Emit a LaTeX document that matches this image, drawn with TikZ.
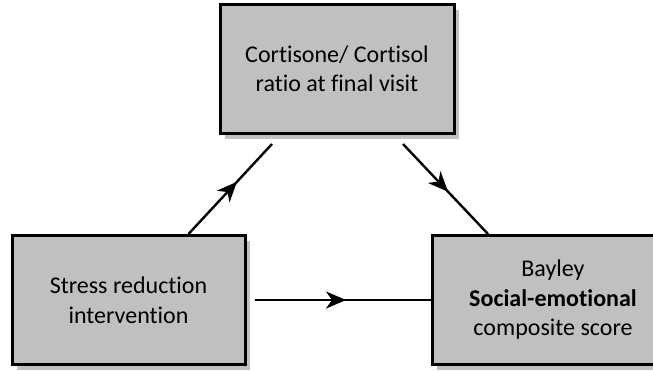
\documentclass[tikz,border=0pt]{standalone}
\usepackage{fontspec}
\setmainfont[Ligatures=NoCommon]{Carlito}
\usepackage{tikz}
\usetikzlibrary{positioning, arrows.meta, shadows, decorations.markings}
\definecolor{boxgray}{HTML}{C0C0C0}

\begin{document}
\begin{tikzpicture}[
    x=1pt, y=-1pt,
    node distance=184pt,
    every node/.style={font=\fontsize{24}{29.5}\selectfont},
    factor/.style={
      draw=black,
      fill=boxgray,
      line width=3pt,
      minimum height=129pt,
      align=center,
      drop shadow={shadow xshift=5pt, shadow yshift=-5pt, fill=boxgray, opacity=1}
    },
    link/.style={
      line width=2.4pt,
      postaction={decorate},
      decoration={markings,
        mark=at position #1 with {\arrow{Stealth[length=20pt,width=17pt,inset=6pt]}}}
    },
    link/.default=0.53
  ]
    \useasboundingbox (0,0) rectangle (653,370);

    \node[factor, minimum width=233pt] (stress) at (128.5,300)
      {Stress reduction\\intervention};
    \node[factor, minimum width=242pt, right=184pt of stress] (bayley)
      {Bayley\\\textbf{Social-emotional}\\composite score};
    \node[factor, minimum width=234pt, above right=99pt and 208pt of stress.north west] (ratio)
      {Cortisone/ Cortisol\\ratio at final visit};

    \draw[link=0.58] ([xshift=60pt]stress.north) -- ([xshift=-65pt, yshift=-9pt]ratio.south);
    \draw[link] ([xshift=66pt, yshift=-9pt]ratio.south) -- ([xshift=-65pt]bayley.north);
    \draw[link=0.52] ([xshift=8pt]stress.east) -- (bayley.west);
  \end{tikzpicture}
\end{document}
